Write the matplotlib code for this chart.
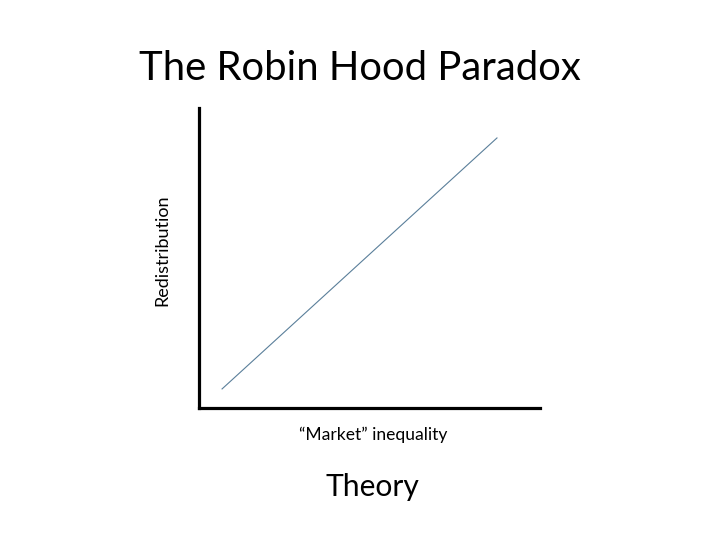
import matplotlib.pyplot as plt

# theory line: redistribution rises with market inequality
market_inequality = [0.069, 0.874]
redistribution = [0.062, 0.900]

plt.rcParams['font.family'] = ['Lato', 'DejaVu Sans']

fig = plt.figure(figsize=(7.2, 5.4), dpi=100)
ax = fig.add_axes([198.5 / 720, 1 - 407.5 / 540, 341.5 / 720, 299.5 / 540])

ax.plot(market_inequality, redistribution, color='#5a7f9a', linewidth=0.8)
ax.set_xlim(0, 1)
ax.set_ylim(0, 1)
ax.set_xticks([])
ax.set_yticks([])
for side in ['top', 'right']:
    ax.spines[side].set_visible(False)
for side in ['left', 'bottom']:
    ax.spines[side].set_linewidth(2.3)
    ax.spines[side].set_capstyle('projecting')

fig.text(360 / 720, 1 - 68 / 540, 'The Robin Hood Paradox', ha='center', va='center', fontsize=28.8)
fig.text(162 / 720, 1 - 250 / 540, 'Redistribution', ha='center', va='center', rotation=90, fontsize=13)
fig.text(373 / 720, 1 - 435 / 540, '\u201cMarket\u201d inequality', ha='center', va='center', fontsize=12.6)
fig.text(372 / 720, 1 - 487 / 540, 'Theory', ha='center', va='center', fontsize=21.6)

fig.savefig('out.png', dpi=100)
